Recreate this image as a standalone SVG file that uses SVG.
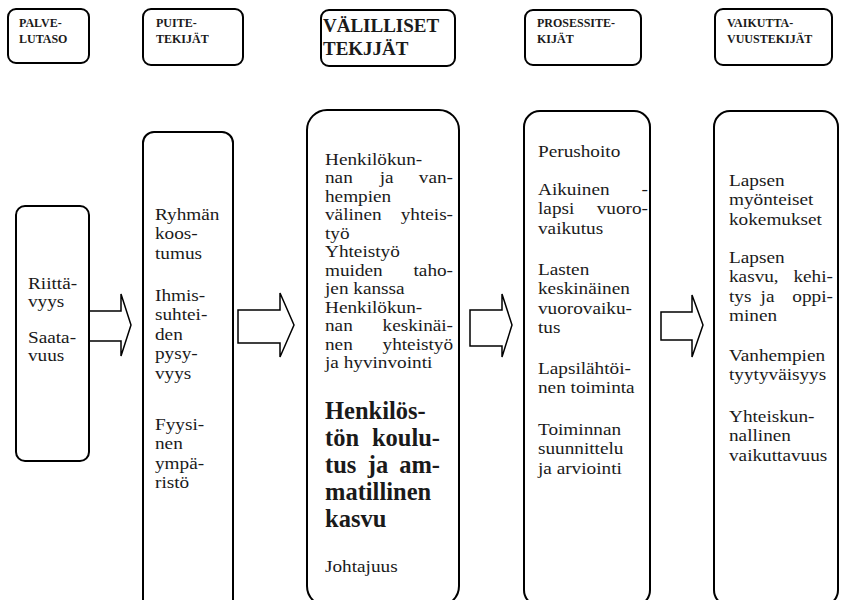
<svg xmlns="http://www.w3.org/2000/svg" width="841" height="600" viewBox="0 0 841 600">
  <style>
    .box { fill: #fff; stroke: #000; stroke-width: 2; }
    .arr { fill: #fff; stroke: #000; stroke-width: 1.5; stroke-linejoin: miter; }
    .t { font-family: "Liberation Serif", "Times New Roman", serif; font-size: 17.5px; fill: #1a1a1a; }
    .b { font-family: "Liberation Serif", "Times New Roman", serif; font-size: 24.5px; font-weight: bold; fill: #1a1a1a; }
    .h { font-family: "Liberation Serif", "Times New Roman", serif; font-size: 12px; font-weight: bold; fill: #1a1a1a; }
    .hl { font-family: "Liberation Serif", "Times New Roman", serif; font-size: 19px; font-weight: bold; fill: #1a1a1a; }
    .e { text-anchor: end; }
    .m { text-anchor: middle; }
  </style>
  <rect width="841" height="600" fill="#fff"/>

  <!-- column headings -->
  <g id="hdr-palvelutaso">
    <rect class="box" x="8" y="9" width="81" height="54" rx="8"/>
    <text class="h" x="19" y="27">PALVE-</text>
    <text class="h" x="19" y="43">LUTASO</text>
  </g>
  <g id="hdr-puitetekijat">
    <rect class="box" x="143" y="9" width="100" height="56" rx="8"/>
    <text class="h" x="156" y="27">PUITE-</text>
    <text class="h" x="156" y="43">TEKIJÄT</text>
  </g>
  <g id="hdr-valilliset">
    <rect class="box" x="321" y="10" width="134" height="56" rx="8"/>
    <text class="hl" x="323" y="32">VÄLILLISET</text>
    <text class="hl" x="323" y="55">TEKJJÄT</text>
  </g>
  <g id="hdr-prosessitekijat">
    <rect class="box" x="525" y="10" width="116" height="55" rx="8"/>
    <text class="h" x="537" y="27">PROSESSITE-</text>
    <text class="h" x="537" y="43">KIJÄT</text>
  </g>
  <g id="hdr-vaikuttavuustekijat">
    <rect class="box" x="715" y="9" width="117" height="56" rx="8"/>
    <text class="h" x="727" y="27">VAIKUTTA-</text>
    <text class="h" x="727" y="43">VUUSTEKIJÄT</text>
  </g>

  <!-- block arrows between the columns -->
  <g id="connectors">
    <path class="arr" d="M89,311 H121 V294 L131,325 L121,356 V341 H89"/>
    <path class="arr" d="M238,310 H280 V293 L294,325 L280,357 V343 H238 Z"/>
    <path class="arr" d="M470,310 H502 V294 L512,325 L502,357 V346 H470 Z"/>
    <path class="arr" d="M661,312 H692 V295 L703,325 L692,357 V340 H661 Z"/>
  </g>

  <!-- service level; body text is set slightly wide (scale 1.1) -->
  <g id="col-palvelutaso">
    <rect class="box" x="16" y="206" width="73" height="255" rx="9"/>
    <g transform="translate(28 0) scale(1.1 1)">
      <text class="t" x="0" y="289">Riittä-</text>
      <text class="t" x="0" y="307">vyys</text>
      <text class="t" x="0" y="343">Saata-</text>
      <text class="t" x="0" y="361">vuus</text>
    </g>
  </g>

  <!-- framework factors -->
  <g id="col-puitetekijat">
    <rect class="box" x="143" y="132" width="90" height="490" rx="11"/>
    <g transform="translate(155 0) scale(1.1 1)">
      <text class="t" x="0" y="220">Ryhmän</text>
      <text class="t" x="0" y="239.5">koos-</text>
      <text class="t" x="0" y="259">tumus</text>
      <text class="t" x="0" y="301">Ihmis-</text>
      <text class="t" x="0" y="320.5">suhtei-</text>
      <text class="t" x="0" y="340">den</text>
      <text class="t" x="0" y="359.5">pysy-</text>
      <text class="t" x="0" y="379">vyys</text>
      <text class="t" x="0" y="430">Fyysi-</text>
      <text class="t" x="0" y="449.5">nen</text>
      <text class="t" x="0" y="469">ympä-</text>
      <text class="t" x="0" y="488.5">ristö</text>
    </g>
  </g>

  <!-- indirect factors -->
  <g id="col-valilliset">
    <rect class="box" x="307" y="110" width="152" height="496" rx="20"/>
    <g transform="translate(325 0) scale(1.1 1)">
      <text class="t" x="0" y="165">Henkilökun-</text>
      <text class="t" x="0" y="183.5">nan</text>
      <text class="t m" x="56" y="183.5">ja</text>
      <text class="t e" x="116.4" y="183.5">van-</text>
      <text class="t" x="0" y="202">hempien</text>
      <text class="t" x="0" y="220.5">välinen</text>
      <text class="t e" x="116.4" y="220.5">yhteis-</text>
      <text class="t" x="0" y="239">työ</text>
      <text class="t" x="0" y="257.5">Yhteistyö</text>
      <text class="t" x="0" y="276">muiden</text>
      <text class="t e" x="116.4" y="276">taho-</text>
      <text class="t" x="0" y="294.5">jen kanssa</text>
      <text class="t" x="0" y="313">Henkilökun-</text>
      <text class="t" x="0" y="331.5">nan</text>
      <text class="t e" x="116.4" y="331.5">keskinäi-</text>
      <text class="t" x="0" y="350">nen</text>
      <text class="t e" x="116.4" y="350">yhteistyö</text>
      <text class="t" x="0" y="368.5">ja hyvinvointi</text>
    </g>
    <text class="b" x="325" y="419">Henkilös-</text>
    <text class="b" x="325" y="446">tön</text>
    <text class="b e" x="440" y="446">koulu-</text>
    <text class="b" x="325" y="473">tus</text>
    <text class="b m" x="378" y="473">ja</text>
    <text class="b e" x="440" y="473">am-</text>
    <text class="b" x="325" y="500">matillinen</text>
    <text class="b" x="325" y="527">kasvu</text>
    <g transform="translate(325 0) scale(1.1 1)">
      <text class="t" x="0" y="572">Johtajuus</text>
    </g>
  </g>

  <!-- process factors -->
  <g id="col-prosessitekijat">
    <rect class="box" x="524" y="111" width="126" height="495" rx="16"/>
    <g transform="translate(538 0) scale(1.1 1)">
      <text class="t" x="0" y="157">Perushoito</text>
      <text class="t" x="0" y="195">Aikuinen</text>
      <text class="t e" x="100" y="195">-</text>
      <text class="t" x="0" y="214.5">lapsi</text>
      <text class="t e" x="100" y="214.5">vuoro-</text>
      <text class="t" x="0" y="234">vaikutus</text>
      <text class="t" x="0" y="275">Lasten</text>
      <text class="t" x="0" y="294.5">keskinäinen</text>
      <text class="t" x="0" y="314">vuorovaiku-</text>
      <text class="t" x="0" y="333.5">tus</text>
      <text class="t" x="0" y="374">Lapsilähtöi-</text>
      <text class="t" x="0" y="393.5">nen toiminta</text>
      <text class="t" x="0" y="435">Toiminnan</text>
      <text class="t" x="0" y="454.5">suunnittelu</text>
      <text class="t" x="0" y="474">ja arviointi</text>
    </g>
  </g>

  <!-- outcome factors -->
  <g id="col-vaikuttavuustekijat">
    <rect class="box" x="714" y="111" width="124" height="495" rx="16"/>
    <g transform="translate(729 0) scale(1.1 1)">
      <text class="t" x="0" y="186">Lapsen</text>
      <text class="t" x="0" y="205.5">myönteiset</text>
      <text class="t" x="0" y="225">kokemukset</text>
      <text class="t" x="0" y="263">Lapsen</text>
      <text class="t" x="0" y="282.5">kasvu,</text>
      <text class="t e" x="94.5" y="282.5">kehi-</text>
      <text class="t" x="0" y="302">tys</text>
      <text class="t m" x="35" y="302">ja</text>
      <text class="t e" x="94.5" y="302">oppi-</text>
      <text class="t" x="0" y="321.5">minen</text>
      <text class="t" x="0" y="361">Vanhempien</text>
      <text class="t" x="0" y="380.5">tyytyväisyys</text>
      <text class="t" x="0" y="422">Yhteiskun-</text>
      <text class="t" x="0" y="441.5">nallinen</text>
      <text class="t" x="0" y="461">vaikuttavuus</text>
    </g>
  </g>
</svg>
